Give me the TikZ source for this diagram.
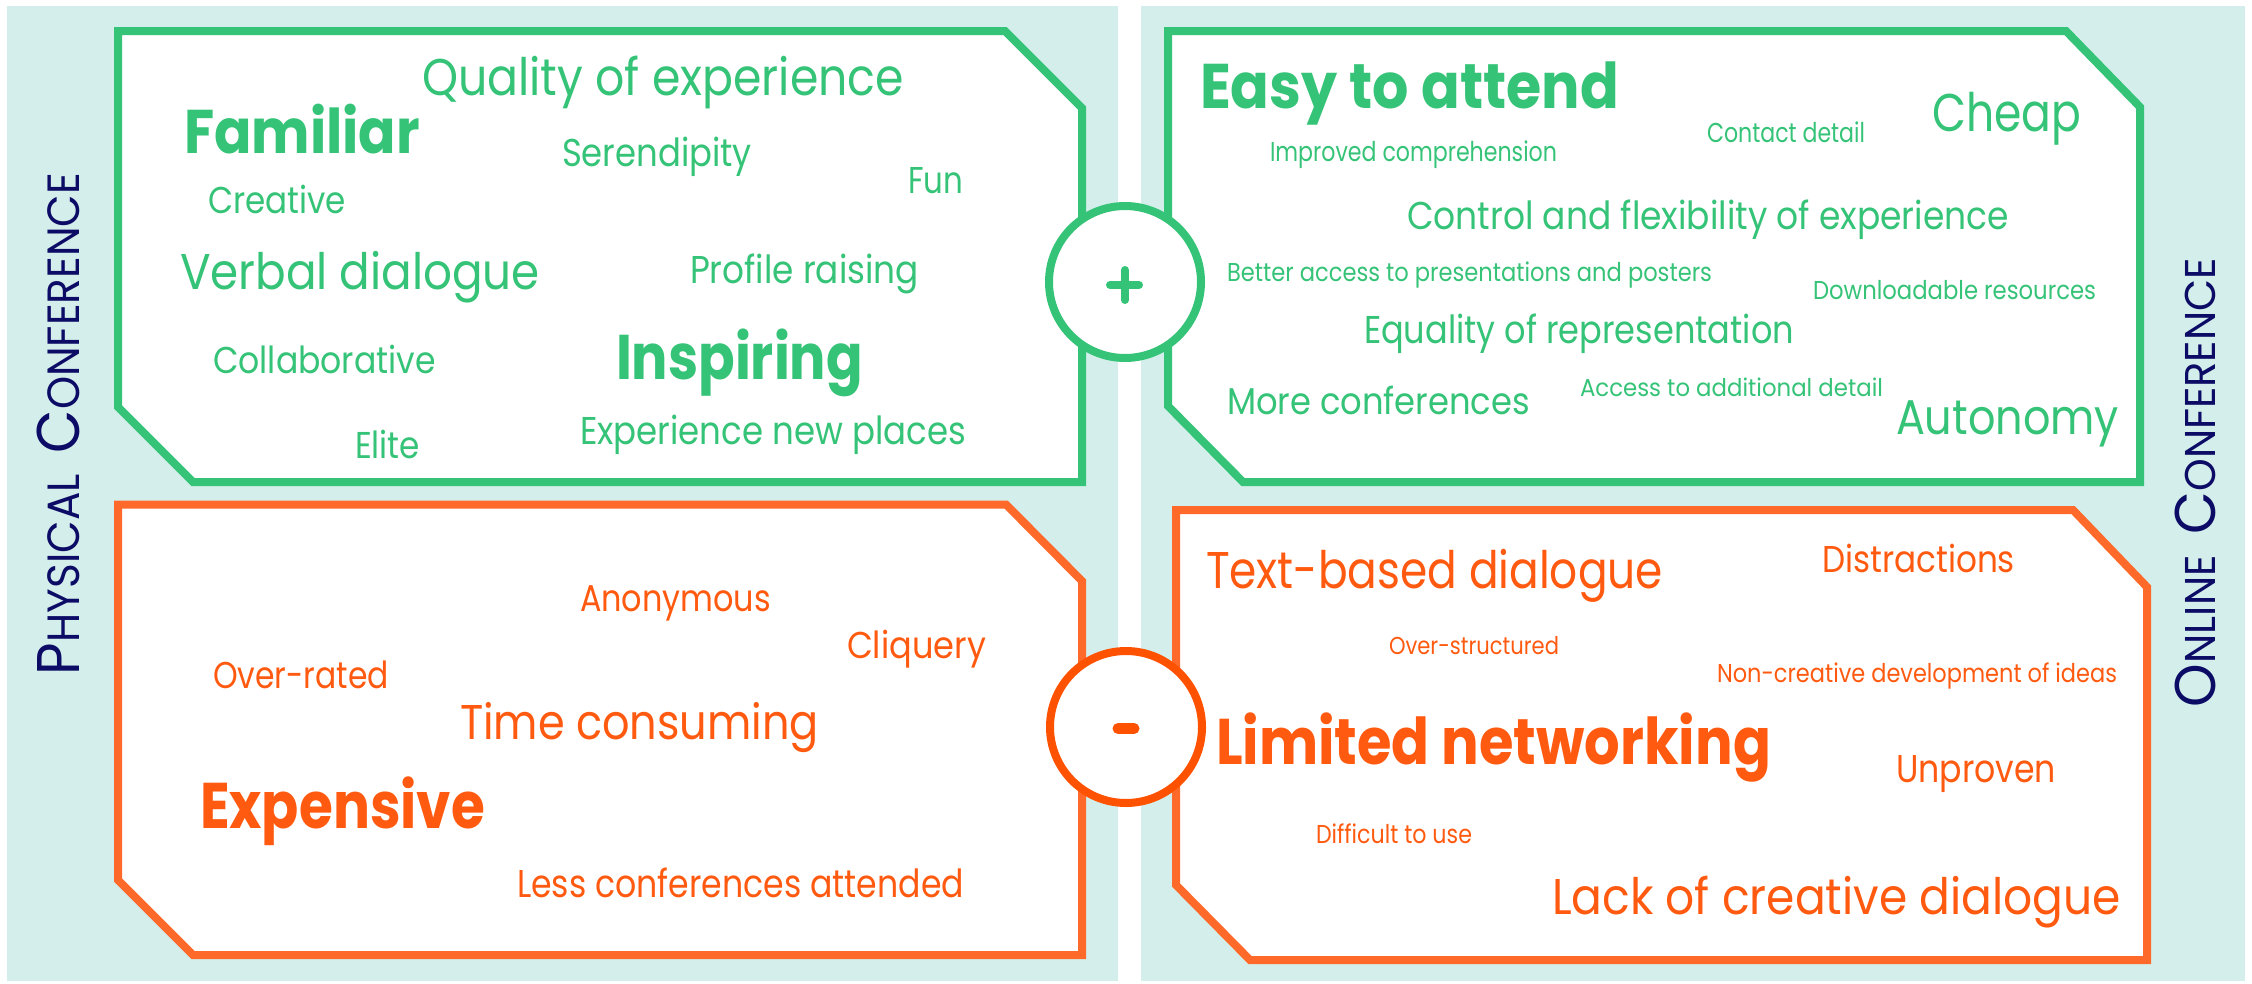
\documentclass[tikz,border=0pt]{standalone}
\usepackage{fontspec}
\setmainfont{Poppins}
\usepackage{graphicx}
\definecolor{bgc}{HTML}{D4EFEB}
\definecolor{gr}{HTML}{34C377}
\definecolor{orb}{HTML}{FF6A2B}
\definecolor{ort}{HTML}{FF5A0F}
\definecolor{orc}{HTML}{FF5200}
\definecolor{navy}{HTML}{0C0C66}
\newcommand\fitt[3]{\resizebox{#1pt}{#2pt}{\vphantom{H}\smash{#3}}}
\newcommand\sidelab[3]{\resizebox{#1pt}{#2pt}{\vphantom{\fontsize{40}{48}\selectfont P}\smash{#3}}}
\newcommand\bigsc[1]{{\fontsize{40}{48}\selectfont #1}}
\newcommand\smsc[1]{{\fontsize{30}{36}\selectfont #1}}
\newcommand\scgap{\hspace*{15pt}}
\begin{document}
\begin{tikzpicture}[x=1pt,y=-1pt,
  panel/.style={fill=bgc,draw=none},
  gbox/.style={draw=gr,line width=8pt,fill=white,line join=miter},
  obox/.style={draw=orb,line width=8pt,fill=white,line join=miter},
  word/.style={inner sep=0pt,outer sep=0pt,anchor=base west,font=\fontsize{40}{48}\selectfont},
  gw/.style={word,text=gr},
  ow/.style={word,text=ort},
  side/.style={inner sep=0pt,outer sep=0pt,anchor=base west,rotate=90,text=navy},
  gcirc/.style={circle,draw=gr,line width=8pt,fill=white,minimum size=152pt,inner sep=0pt},
  ocirc/.style={circle,draw=orc,line width=8pt,fill=white,minimum size=152pt,inner sep=0pt},
  sign/.style={line width=8pt,line cap=round}
]
\useasboundingbox (0,0) rectangle (2252,983);
\fill[white] (0,0) rectangle (2252,983);
% background panels
\path[panel] (7,6) rectangle (1118,981);
\path[panel] (1141,6) rectangle (2245,981);
% boxes
\draw[gbox] (118,31) -- (1005,31) -- (1082,108) -- (1082,482) -- (193,482) -- (118,407) -- cycle;
\draw[obox] (118,504.5) -- (1006,504.5) -- (1082,581) -- (1082,955) -- (193,955) -- (118,880) -- cycle;
\draw[gbox] (1168,31) -- (2066,31) -- (2140,107) -- (2140,482) -- (1243,482) -- (1168,406) -- cycle;
\draw[obox] (1176,510) -- (2073,510) -- (2147,587) -- (2147,960) -- (1250,960) -- (1176,885) -- cycle;
% side labels
\node[side] (phys) at (79,675) {\sidelab{502}{42}{\bigsc{P}\smsc{HYSICAL}\scgap\bigsc{C}\smsc{ONFERENCE}}};
\node[side] (onl) at (2215,707) {\sidelab{449}{40}{\bigsc{O}\smsc{NLINE}\scgap\bigsc{C}\smsc{ONFERENCE}}};
% top-left words
\node[gw] (w1) at (422,95) {\fitt{482}{36}{Quality of experience}};
\node[gw] (w2) at (184,153) {\fitt{236}{43}{\bfseries Familiar}};
\node[gw] (w3) at (562,166) {\fitt{190}{27}{Serendipity}};
\node[gw] (w4) at (908,193) {\fitt{55}{26}{Fun}};
\node[gw] (w5) at (208,213) {\fitt{138}{26}{Creative}};
\node[gw] (w6) at (180,289) {\fitt{360}{35}{Verbal dialogue}};
\node[gw] (w7) at (690,283) {\fitt{229}{27}{Profile raising}};
\node[gw] (w8) at (213,373) {\fitt{223}{26}{Collaborative}};
\node[gw] (w9) at (616,379) {\fitt{247}{44}{\bfseries Inspiring}};
\node[gw] (w10) at (355,458) {\fitt{65}{26}{Elite}};
\node[gw] (w11) at (580,444) {\fitt{386}{27}{Experience new places}};
% top-right words
\node[gw] (w12) at (1200,108) {\fitt{419}{44}{\bfseries Easy to attend}};
\node[gw] (w13) at (1932,131) {\fitt{149}{37}{Cheap}};
\node[gw] (w14) at (1707,142) {\fitt{158}{19}{Contact detail}};
\node[gw] (w15) at (1270,161) {\fitt{287}{19}{Improved comprehension}};
\node[gw] (w16) at (1407,229) {\fitt{602}{27}{Control and flexibility of experience}};
\node[gw] (w17) at (1227,281) {\fitt{485}{18}{Better access to presentations and posters}};
\node[gw] (w18) at (1813,299) {\fitt{283}{18}{Downloadable resources}};
\node[gw] (w19) at (1364,343) {\fitt{430}{27}{Equality of representation}};
\node[gw] (w20) at (1227,414) {\fitt{303}{26}{More conferences}};
\node[gw] (w21) at (1580,396) {\fitt{303}{17}{Access to additional detail}};
\node[gw] (w22) at (1896,434) {\fitt{223}{34}{Autonomy}};
% bottom-left words
\node[ow] (w23) at (580,611) {\fitt{191}{26}{Anonymous}};
\node[ow] (w24) at (847,658) {\fitt{139}{26}{Cliquery}};
\node[ow] (w25) at (213,688) {\fitt{176}{26}{Over-rated}};
\node[ow] (w26) at (460,739) {\fitt{359}{34}{Time consuming}};
\node[ow] (w27) at (200,828) {\fitt{285}{45}{\bfseries Expensive}};
\node[ow] (w28) at (517,897) {\fitt{447}{27}{Less conferences attended}};
% bottom-right words
\node[ow] (w29) at (1206,588) {\fitt{457}{36}{Text-based dialogue}};
\node[ow] (w30) at (1822,572) {\fitt{193}{26}{Distractions}};
\node[ow] (w31) at (1389,654) {\fitt{170}{17}{Over-structured}};
\node[ow] (w32) at (1717,682) {\fitt{400}{18}{Non-creative development of ideas}};
\node[ow] (w33) at (1216,764) {\fitt{555}{45}{\bfseries Limited networking}};
\node[ow] (w34) at (1896,782) {\fitt{160}{27}{Unproven}};
\node[ow] (w35) at (1316,843) {\fitt{156}{18}{Difficult to use}};
\node[ow] (w36) at (1552,914) {\fitt{569}{35}{Lack of creative dialogue}};
% circles
\node[gcirc] (plus) at (1125,282) {};
\draw[sign,gr] ([xshift=-15pt,yshift=-3pt]plus.center) -- ([xshift=14pt,yshift=-3pt]plus.center);
\draw[sign,gr] ([yshift=12pt]plus.center) -- ([yshift=-18pt]plus.center);
\node[ocirc] (minus) at (1126,727) {};
\draw[line width=11pt,line cap=round,orc] ([xshift=-8pt,yshift=-1.5pt]minus.center) -- ([xshift=8pt,yshift=-1.5pt]minus.center);
\end{tikzpicture}
\end{document}
